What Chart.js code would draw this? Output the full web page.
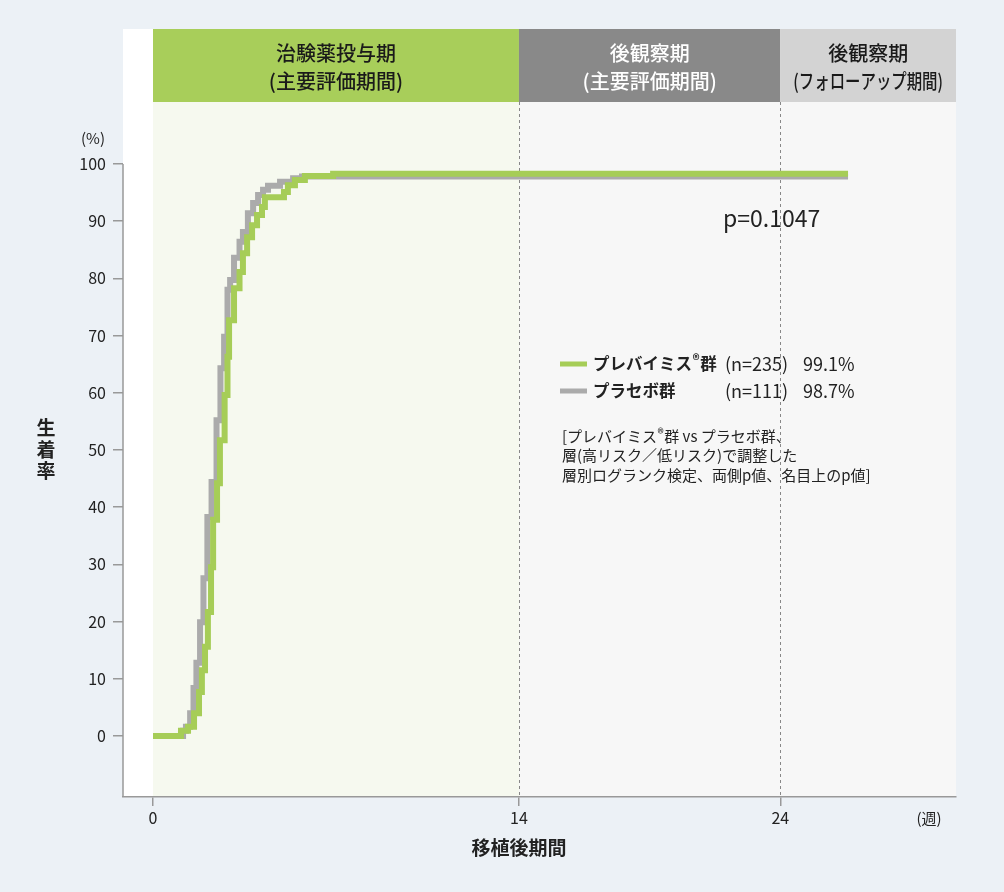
<!DOCTYPE html>
<html lang="ja">
<head>
<meta charset="utf-8">
<title>生着率</title>
<script src="https://cdn.jsdelivr.net/npm/chart.js@4.4.1/dist/chart.umd.min.js"></script>
<style>
  html, body { margin: 0; padding: 0; background: #ECF1F6; }
  #wrap { width: 1004px; height: 892px; }
</style>
</head>
<body>
<div id="wrap"><canvas id="kmChart" width="1004" height="892"></canvas></div>
<script>
/* ---------- データ (週, %) ---------- */
const greenWeeks = [0, 1.07, 1.34, 1.57, 1.76, 1.87, 1.99, 2.10, 2.22, 2.30,
  2.45, 2.56, 2.74, 2.85, 2.91, 3.10, 3.31, 3.44, 3.60, 3.79,
  3.98, 4.17, 4.28, 5.01, 5.16, 5.43, 5.81, 6.89, 26.59];
const greenPct = [0, 0.9, 1.6, 4.0, 7.7, 11.5, 15.6, 21.7, 29.5, 37.8,
  44.2, 51.7, 59.6, 66.3, 72.7, 78.3, 81.1, 84.4, 87.2, 89.3,
  91.1, 92.5, 94.2, 95.1, 96.3, 97.2, 97.9, 98.3, 98.3];

const grayWeeks = [0, 1.15, 1.26, 1.42, 1.55, 1.66, 1.80, 1.93, 2.08, 2.24,
  2.43, 2.58, 2.72, 2.85, 2.95, 3.10, 3.31, 3.44, 3.63, 3.83,
  4.02, 4.21, 4.40, 4.86, 5.36, 5.70, 26.59];
const grayPct = [0, 0.9, 1.6, 4.0, 8.4, 12.8, 19.9, 27.6, 38.3, 44.4,
  55.2, 64.3, 69.8, 78.0, 79.7, 83.6, 86.4, 88.1, 91.4, 93.2,
  94.6, 95.5, 96.2, 96.9, 97.5, 97.8, 97.8];

const seriesNames = ['プレバイミス®群', 'プラセボ群'];
const seriesN = ['(n=235)', '(n=111)'];
const seriesRate = ['99.1%', '98.7%'];
const seriesColors = ['#A6CD57', '#ABABAB'];

const yTickValues = [0, 10, 20, 30, 40, 50, 60, 70, 80, 90, 100];
const xTickValues = [0, 14, 24];

const phaseStarts = [0, 14, 24];
const phaseTitles = [
  ['治験薬投与期', '(主要評価期間)'],
  ['後観察期', '(主要評価期間)'],
  ['後観察期', '(フォローアップ期間)']
];
const pValueText = 'p=0.1047';
const noteLines = [
  '[プレバイミス®群 vs プラセボ群、',
  '層(高リスク／低リスク)で調整した',
  '層別ログランク検定、両側p値、名目上のp値]'
];

/* ---------- 見た目の設定 ---------- */
const FONT = '"Noto Sans CJK JP", "Noto Sans", sans-serif';
const TEXT = '#222';
const AXIS = '#999';
const BAND_H = 73;
const bandFill = ['#A8CE5A', '#898989', '#D3D3D3'];
const bandText = ['#1a1a1a', '#ffffff', '#1a1a1a'];
const phaseBg = ['#F6F9EF', '#F7F7F7', '#F7F7F7'];

// ® を小さく上付きで描く
function drawRuns(ctx, str, x, y, font, smallFont, lift) {
  const parts = str.split('®');
  let cx = x;
  parts.forEach((p, i) => {
    if (i > 0) {
      ctx.font = smallFont;
      ctx.fillText('®', cx + 0.5, y - lift);
      cx += ctx.measureText('®').width + 1;
    }
    ctx.font = font;
    ctx.fillText(p, cx, y);
    cx += ctx.measureText(p).width;
  });
  return cx;
}

const decorPlugin = {
  id: 'decor',
  beforeDraw(chart) {
    const { ctx, chartArea: a, scales: { x } } = chart;
    const bandBottom = a.top + BAND_H;
    ctx.save();
    ctx.fillStyle = '#fff';
    ctx.fillRect(a.left, a.top, a.right - a.left, a.bottom - a.top);

    phaseStarts.forEach((s, i) => {
      const x0 = x.getPixelForValue(s);
      const x1 = i + 1 < phaseStarts.length ? x.getPixelForValue(phaseStarts[i + 1]) : a.right;
      ctx.fillStyle = phaseBg[i];
      ctx.fillRect(x0, bandBottom, x1 - x0, a.bottom - bandBottom);
      ctx.fillStyle = bandFill[i];
      ctx.fillRect(x0, a.top, x1 - x0, BAND_H);

      ctx.fillStyle = bandText[i];
      ctx.textAlign = 'center';
      ctx.textBaseline = 'middle';
      ctx.font = '500 20px ' + FONT;
      const cx = (x0 + x1) / 2;
      ctx.fillText(phaseTitles[i][0], cx, a.top + 24);
      // 帯の幅に収める
      ctx.fillText(phaseTitles[i][1], cx, a.top + 52, (x1 - x0) - 26);
    });
    ctx.restore();
  },
  beforeDatasetsDraw(chart) {
    const { ctx, chartArea: a, scales: { x, y } } = chart;
    const bandBottom = a.top + BAND_H;
    ctx.save();
    ctx.strokeStyle = '#888';
    ctx.lineWidth = 1;
    ctx.setLineDash([3, 3]);
    phaseStarts.slice(1).forEach(s => {
      const px = Math.round(x.getPixelForValue(s)) + 0.5;
      ctx.beginPath();
      ctx.moveTo(px, bandBottom);
      ctx.lineTo(px, a.bottom);
      ctx.stroke();
    });
    ctx.setLineDash([]);
    // 縦軸の線 (100 の目盛から下)
    ctx.strokeStyle = AXIS;
    ctx.lineWidth = 1.5;
    ctx.beginPath();
    ctx.moveTo(a.left, y.getPixelForValue(100));
    ctx.lineTo(a.left, a.bottom);
    ctx.stroke();
    ctx.restore();
  },
  afterDraw(chart) {
    const { ctx, scales: { x, y } } = chart;
    ctx.save();
    ctx.fillStyle = TEXT;
    ctx.textBaseline = 'middle';

    // (%)
    ctx.textAlign = 'center';
    ctx.font = '15px ' + FONT;
    ctx.fillText('(%)', 93, y.getPixelForValue(100) - 26);

    // 生着率 (縦に並べる)
    ctx.font = 'bold 19px ' + FONT;
    ['生', '着', '率'].forEach((c, i) => ctx.fillText(c, 46, 428 + i * 21.5));

    // 移植後期間
    ctx.fillText('移植後期間', x.getPixelForValue(14), 848);

    // (週)
    ctx.font = '15px ' + FONT;
    ctx.fillText('(週)', 929, 818);

    // p値
    ctx.textAlign = 'left';
    ctx.font = '23px ' + FONT;
    ctx.fillText(pValueText, 723, 218);

    // 凡例
    const rowY = [364, 391];
    seriesNames.forEach((name, i) => {
      ctx.fillStyle = seriesColors[i];
      ctx.fillRect(560, rowY[i] - 2.5, 27, 5);
      ctx.fillStyle = TEXT;
      drawRuns(ctx, name, 593, rowY[i], 'bold 16.5px ' + FONT, 'bold 14px ' + FONT, 4);
      ctx.font = '18px ' + FONT;
      ctx.fillText(seriesN[i], 725, rowY[i]);
      ctx.fillText(seriesRate[i], 803, rowY[i]);
    });

    // 注記
    noteLines.forEach((t, i) => {
      drawRuns(ctx, t, 562, 436 + i * 19.5, '15px ' + FONT, '13px ' + FONT, 3);
    });
    ctx.restore();
  }
};

const toPoints = (xs, ys) => xs.map((w, i) => ({ x: w, y: ys[i] }));

new Chart(document.getElementById('kmChart'), {
  type: 'line',
  data: {
    datasets: [
      { label: seriesNames[0], data: toPoints(greenWeeks, greenPct), borderColor: seriesColors[0],
        borderWidth: 6, stepped: 'before', pointRadius: 0, fill: false },
      { label: seriesNames[1], data: toPoints(grayWeeks, grayPct), borderColor: seriesColors[1],
        borderWidth: 6, stepped: 'before', pointRadius: 0, fill: false }
    ]
  },
  options: {
    responsive: false,
    animation: false,
    layout: { padding: { top: 29, right: 48, left: 0, bottom: 0 } },
    plugins: { legend: { display: false }, tooltip: { enabled: false } },
    scales: {
      x: {
        type: 'linear',
        min: -1.148,
        max: 30.72,
        afterBuildTicks: s => { s.ticks = xTickValues.map(v => ({ value: v })); },
        afterFit: s => { s.height = 95; },
        grid: { display: true, drawOnChartArea: false, drawTicks: true, tickLength: 9, color: AXIS, lineWidth: 1.5 },
        border: { display: true, color: AXIS, width: 1.5 },
        ticks: { color: TEXT, font: { family: FONT, size: 16 }, padding: 2, maxRotation: 0 }
      },
      y: {
        min: -10.66,
        max: 123.6,
        afterBuildTicks: s => { s.ticks = yTickValues.map(v => ({ value: v })); },
        afterFit: s => { s.width = 123; },
        grid: { display: true, drawOnChartArea: false, drawTicks: true, tickLength: 10, color: AXIS, lineWidth: 1.5 },
        border: { display: false },
        ticks: { color: TEXT, font: { family: FONT, size: 16 }, padding: 7 }
      }
    }
  },
  plugins: [decorPlugin]
});
</script>
</body>
</html>
